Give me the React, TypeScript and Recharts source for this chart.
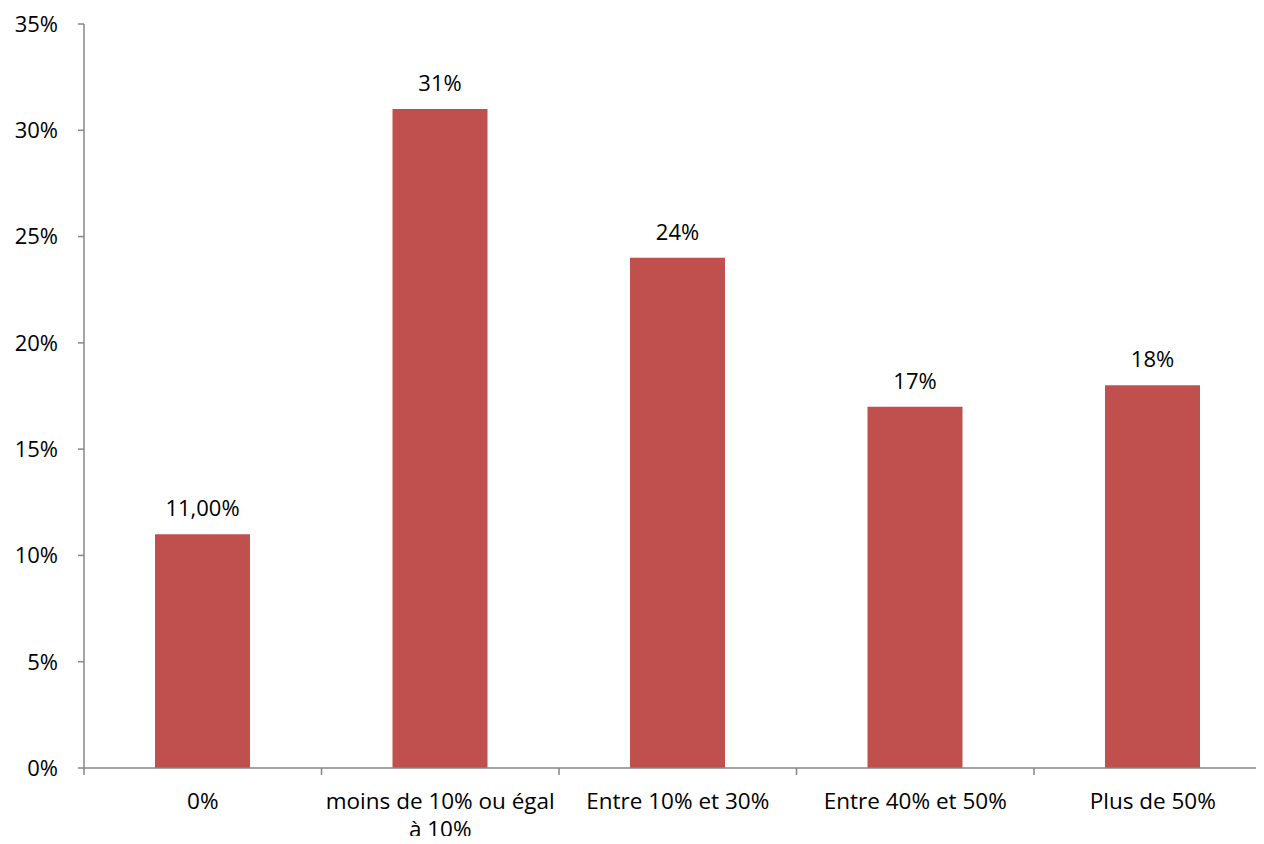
import React from "react";
import { BarChart, Bar, XAxis, YAxis, LabelList } from "recharts";

const categories = ["0%", "moins de 10% ou égal à 10%", "Entre 10% et 30%", "Entre 40% et 50%", "Plus de 50%"];
const categoryLines = [["0%"], ["moins de 10% ou égal", "à 10%"], ["Entre 10% et 30%"], ["Entre 40% et 50%"], ["Plus de 50%"]];
const values = [11, 31, 24, 17, 18];
const valueLabels = ["11,00%", "31%", "24%", "17%", "18%"];
const yTicks = [0, 5, 10, 15, 20, 25, 30, 35];

const data = categories.map((c, i) => ({ name: c, value: values[i], label: valueLabels[i] }));

const FONT = "'Open Sans', sans-serif";
const AXIS = "#868686";
const CHART_W = 1280;
const Y_W = 84;
const RIGHT = 8.5;
const BAND = (CHART_W - Y_W - RIGHT) / categories.length;

const CatTick = (props: any) => {
  const { x, y, payload, index } = props;
  const i = categories.indexOf(payload.value);
  const lines = i >= 0 ? categoryLines[i] : [String(payload.value)];
  const isLast = index === categories.length - 1;
  return (
    <g>
      <line x1={x - BAND / 2} x2={x - BAND / 2} y1={y} y2={y + 7} stroke={AXIS} strokeWidth={1.5} />
      {isLast && (
        <line x1={x + BAND / 2} x2={x + BAND / 2} y1={y} y2={y + 7} stroke={AXIS} strokeWidth={1.5} />
      )}
      <text x={x} y={y} textAnchor="middle" fill="#000" fontFamily={FONT} fontSize={22.5}>
        {lines.map((l, k) => (
          <tspan key={k} x={x} dy={k === 0 ? 41 : 28}>{l}</tspan>
        ))}
      </text>
    </g>
  );
};

export default function App() {
  return (
    <div style={{ margin: -8, width: 1264, height: 844, overflow: "hidden", background: "#fff" }}>
      <BarChart
        width={CHART_W}
        height={844}
        data={data}
        margin={{ top: 24, right: RIGHT, bottom: 0, left: 0 }}
        barCategoryGap={0}
      >
        <XAxis
          dataKey="name"
          type="category"
          axisLine={{ stroke: AXIS, strokeWidth: 1.5 }}
          tickLine={false}
          tickSize={0}
          tickMargin={0}
          height={76}
          interval={0}
          tick={<CatTick />}
        />
        <YAxis
          type="number"
          domain={[0, 35]}
          ticks={yTicks}
          width={Y_W}
          tickSize={6}
          tickMargin={20}
          stroke={AXIS}
          strokeWidth={1.5}
          tickFormatter={(v: number) => `${v}%`}
          tick={{ fill: "#000", fontFamily: FONT, fontSize: 22 }}
          allowDataOverflow
        />
        <Bar dataKey="value" fill="#C0504D" barSize={95} isAnimationActive={false}>
          <LabelList
            dataKey="label"
            position="top"
            offset={18}
            fill="#000"
            fontFamily={FONT}
            fontSize={22}
          />
        </Bar>
      </BarChart>
    </div>
  );
}
